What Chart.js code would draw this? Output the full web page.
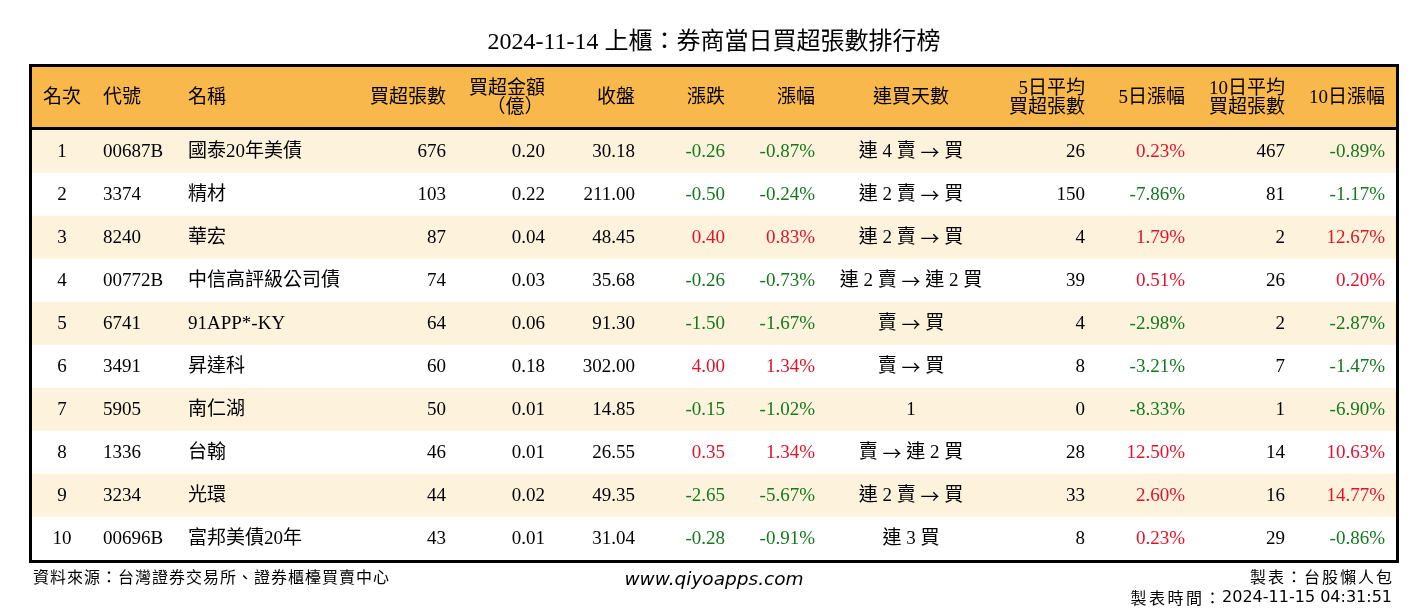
<!DOCTYPE html>
<html>
<head>
<meta charset="utf-8">
<script src="https://cdn.jsdelivr.net/npm/chart.js@4"></script>
<style>
  body { margin: 0; background: #fff; }
  #wrap { width: 1428px; height: 612px; position: relative; }
</style>
</head>
<body>
<div id="wrap"><canvas id="myChart"></canvas></div>
<script>
// table data
const ranks = ['1', '2', '3', '4', '5', '6', '7', '8', '9', '10'];
const codes = ['00687B', '3374', '8240', '00772B', '6741', '3491', '5905', '1336', '3234', '00696B'];
const names = ['國泰20年美債', '精材', '華宏', '中信高評級公司債', '91APP*-KY', '昇達科', '南仁湖', '台翰', '光環', '富邦美債20年'];
const netLots = [676, 103, 87, 74, 64, 60, 50, 46, 44, 43];
const netAmount = [0.20, 0.22, 0.04, 0.03, 0.06, 0.18, 0.01, 0.01, 0.02, 0.01];
const closes = [30.18, 211.00, 48.45, 35.68, 91.30, 302.00, 14.85, 26.55, 49.35, 31.04];
const changes = [-0.26, -0.50, 0.40, -0.26, -1.50, 4.00, -0.15, 0.35, -2.65, -0.28];
const changePct = [-0.87, -0.24, 0.83, -0.73, -1.67, 1.34, -1.02, 1.34, -5.67, -0.91];
const streaks = ['連 4 賣 → 買', '連 2 賣 → 買', '連 2 賣 → 買', '連 2 賣 → 連 2 買', '賣 → 買', '賣 → 買', '1', '賣 → 連 2 買', '連 2 賣 → 買', '連 3 買'];
const avg5Lots = [26, 150, 4, 39, 4, 8, 0, 28, 33, 8];
const pct5 = [0.23, -7.86, 1.79, 0.51, -2.98, -3.21, -8.33, 12.50, 2.60, 0.23];
const avg10Lots = [467, 81, 2, 26, 2, 7, 1, 14, 16, 29];
const pct10 = [-0.89, -1.17, 12.67, 0.20, -2.87, -1.47, -6.90, 10.63, 14.77, -0.86];

const headers = [['名次'], ['代號'], ['名稱'], ['買超張數'], ['買超金額', '（億）'], ['收盤'], ['漲跌'], ['漲幅'],
  ['連買天數'], ['5日平均', '買超張數'], ['5日漲幅'], ['10日平均', '買超張數'], ['10日漲幅']];

const titleText = '2024-11-14 上櫃：券商當日買超張數排行榜';
const sourceText = '資料來源：台灣證券交易所、證券櫃檯買賣中心';
const siteText = 'www.qiyoapps.com';
const makerText = '製表：台股懶人包';
const timeLabel = '製表時間：';
const timeText = '2024-11-15 04:31:51';

const RED = '#e0132b';
const GREEN = '#14781f';
const ORANGE = '#f8b84b';
const STRIPE = '#fdf3dd';

const serif = '"Liberation Serif", "Noto Sans CJK TC", serif';
const bodyFont = '19px ' + serif;
const arrowFont = '19px "Noto Sans CJK TC", sans-serif';
const signColor = v => v > 0 ? RED : (v < 0 ? GREEN : '#000');

// column layout: anchor on the x scale + alignment
const columns = [
  { at: 62, align: 'center', text: i => ranks[i] },
  { at: 103, align: 'left', text: i => codes[i] },
  { at: 188, align: 'left', text: i => names[i] },
  { at: 446, align: 'right', text: i => String(netLots[i]) },
  { at: 545, align: 'right', text: i => netAmount[i].toFixed(2), sub: 515 },
  { at: 635, align: 'right', text: i => closes[i].toFixed(2) },
  { at: 725, align: 'right', text: i => changes[i].toFixed(2), color: i => signColor(changes[i]) },
  { at: 815, align: 'right', text: i => changePct[i].toFixed(2) + '%', color: i => signColor(changePct[i]) },
  { at: 911, align: 'center', text: i => streaks[i], arrows: true },
  { at: 1085, align: 'right', text: i => String(avg5Lots[i]) },
  { at: 1185, align: 'right', text: i => pct5[i].toFixed(2) + '%', color: i => signColor(pct5[i]) },
  { at: 1285, align: 'right', text: i => String(avg10Lots[i]) },
  { at: 1385, align: 'right', text: i => pct10[i].toFixed(2) + '%', color: i => signColor(pct10[i]) },
];

// centered text where the arrow comes from the CJK font (longer arrow)
function drawArrowText(ctx, text, cx, y) {
  const parts = [];
  text.split('→').forEach((p, k) => {
    if (k > 0) parts.push({ s: '→', f: arrowFont });
    if (p) parts.push({ s: p, f: bodyFont });
  });
  let total = 0;
  parts.forEach(p => { ctx.font = p.f; p.w = ctx.measureText(p.s).width; total += p.w; });
  let x = cx - total / 2;
  ctx.textAlign = 'left';
  parts.forEach(p => { ctx.font = p.f; ctx.fillText(p.s, x, y); x += p.w; });
  ctx.font = bodyFont;
}

const tablePlugin = {
  id: 'tablePlugin',
  afterDatasetsDraw(chart) {
    const ctx = chart.ctx;
    const area = chart.chartArea;
    const xs = chart.scales.x;
    const ys = chart.scales.y;
    const headTop = area.top - 63;
    ctx.save();

    // title
    ctx.fillStyle = '#000';
    ctx.font = '24px ' + serif;
    ctx.textAlign = 'center';
    ctx.textBaseline = 'middle';
    ctx.fillText(titleText, chart.width / 2, 43);

    // header band
    ctx.fillStyle = ORANGE;
    ctx.fillRect(area.left, headTop, area.right - area.left, 63);
    ctx.fillStyle = '#000';
    ctx.font = bodyFont;
    headers.forEach((h, c) => {
      const col = columns[c];
      const mid = headTop + 31;
      if (h.length === 1) {
        ctx.textAlign = col.align;
        ctx.fillText(h[0], xs.getPixelForValue(col.at), mid);
      } else {
        ctx.textAlign = 'right';
        ctx.fillText(h[0], xs.getPixelForValue(col.at), mid - 9);
        if (col.sub) {
          ctx.textAlign = 'center';
          ctx.fillText(h[1], xs.getPixelForValue(col.sub), mid + 10);
        } else {
          ctx.fillText(h[1], xs.getPixelForValue(col.at), mid + 10);
        }
      }
    });

    // cells
    ranks.forEach((r, i) => {
      const y = ys.getPixelForValue(i) + 1;
      columns.forEach(col => {
        ctx.fillStyle = col.color ? col.color(i) : '#000';
        if (col.arrows) {
          drawArrowText(ctx, col.text(i), xs.getPixelForValue(col.at), y);
        } else {
          ctx.textAlign = col.align;
          ctx.fillText(col.text(i), xs.getPixelForValue(col.at), y);
        }
      });
    });

    // borders
    ctx.strokeStyle = '#000';
    ctx.lineWidth = 3;
    ctx.strokeRect(area.left - 1.5, headTop - 1.5, area.right - area.left + 3, area.bottom - headTop + 3);
    ctx.beginPath();
    ctx.moveTo(area.left, area.top - 1.5);
    ctx.lineTo(area.right, area.top - 1.5);
    ctx.stroke();

    // footer
    ctx.fillStyle = '#000';
    ctx.textBaseline = 'middle';
    ctx.font = '16px "Noto Sans CJK TC", sans-serif';
    ctx.letterSpacing = '1px';
    ctx.textAlign = 'left';
    ctx.fillText(sourceText, 33, 577);
    ctx.letterSpacing = '2px';
    ctx.textAlign = 'right';
    ctx.fillText(makerText, 1394, 577);
    ctx.letterSpacing = '0px';
    ctx.font = '16px "DejaVu Sans", "Noto Sans CJK TC", sans-serif';
    ctx.fillText(timeText, 1392, 598);
    const tw = ctx.measureText(timeText).width;
    ctx.font = '16px "Noto Sans CJK TC", sans-serif';
    ctx.letterSpacing = '2.5px';
    ctx.fillText(timeLabel, 1392 - tw + 1, 598);
    ctx.letterSpacing = '0px';
    ctx.font = 'italic 18.5px "DejaVu Sans", sans-serif';
    ctx.textAlign = 'center';
    ctx.fillText(siteText, chart.width / 2, 580);

    ctx.restore();
  }
};

const ctx = document.getElementById('myChart').getContext('2d');
const myChart = new Chart(ctx, {
  type: 'bar',
  data: {
    labels: ranks,
    datasets: [{
      label: 'rows',
      data: ranks.map(() => [32, 1396]),
      backgroundColor: ranks.map((r, i) => i % 2 === 0 ? STRIPE : '#ffffff'),
      borderWidth: 0,
      barPercentage: 1,
      categoryPercentage: 1,
    }]
  },
  options: {
    indexAxis: 'y',
    responsive: true,
    maintainAspectRatio: false,
    animation: false,
    layout: { padding: { left: 32, right: 32, top: 130, bottom: 52 } },
    plugins: {
      legend: { display: false },
      tooltip: { enabled: false },
      title: { display: false },
    },
    scales: {
      x: { type: 'linear', min: 32, max: 1396, display: false },
      y: { type: 'category', offset: true, display: false, grid: { display: false } },
    },
  },
  plugins: [tablePlugin]
});
</script>
</body>
</html>
